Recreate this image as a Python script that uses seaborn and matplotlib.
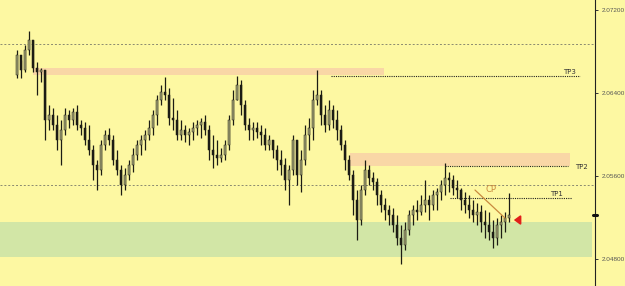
import numpy as np
import pandas as pd
import matplotlib
matplotlib.use("Agg")
import matplotlib.pyplot as plt
import seaborn as sns

# ---- data (prices) ----
first_open = 2.06573
highs = [2.06814, 2.06718, 2.06862, 2.06997, 2.06910, 2.06698, 2.06640, 2.06621, 2.06284, 2.06255,
         2.06187, 2.06139, 2.06255, 2.06236, 2.06255, 2.06284, 2.06139, 2.06120, 2.06091, 2.05898,
         2.05754, 2.05946, 2.06043, 2.06062, 2.05995, 2.05850, 2.05705, 2.05676, 2.05754, 2.05869,
         2.05946, 2.05995, 2.06043, 2.06139, 2.06236, 2.06380, 2.06477, 2.06554, 2.06448, 2.06351,
         2.06236, 2.06139, 2.06091, 2.06062, 2.06120, 2.06139, 2.06158, 2.06187, 2.06091, 2.05995,
         2.05946, 2.05869, 2.05946, 2.06187, 2.06428, 2.06563, 2.06525, 2.06332, 2.06158, 2.06120,
         2.06120, 2.06091, 2.06062, 2.05995, 2.05946, 2.05898, 2.05850, 2.05773, 2.05705, 2.05995,
         2.05946, 2.05850, 2.06091, 2.06158, 2.06428, 2.06621, 2.06428, 2.06284, 2.06332, 2.06284,
         2.06236, 2.06091, 2.05946, 2.05802, 2.05657, 2.05464, 2.05513, 2.05754, 2.05705, 2.05638,
         2.05580, 2.05464, 2.05387, 2.05320, 2.05291, 2.05223, 2.05127, 2.05156, 2.05272, 2.05320,
         2.05368, 2.05416, 2.05561, 2.05416, 2.05464, 2.05484, 2.05561, 2.05725, 2.05638, 2.05609,
         2.05561, 2.05484, 2.05445, 2.05416, 2.05368, 2.05339, 2.05320, 2.05272, 2.05252, 2.05175,
         2.05194, 2.05223, 2.05252, 2.05435]
lows = [2.06544, 2.06544, 2.06602, 2.06766, 2.06602, 2.06380, 2.06506, 2.05946, 2.06043, 2.06043,
        2.05850, 2.05705, 2.05995, 2.06062, 2.06091, 2.06043, 2.05995, 2.05898, 2.05802, 2.05561,
        2.05464, 2.05609, 2.05850, 2.05898, 2.05705, 2.05609, 2.05416, 2.05464, 2.05561, 2.05638,
        2.05754, 2.05802, 2.05850, 2.05946, 2.05995, 2.06091, 2.06284, 2.06332, 2.06091, 2.06043,
        2.05946, 2.05946, 2.05927, 2.05898, 2.05946, 2.05995, 2.05966, 2.05995, 2.05754, 2.05676,
        2.05705, 2.05734, 2.05754, 2.05850, 2.06091, 2.06332, 2.06187, 2.06043, 2.05946, 2.05946,
        2.05966, 2.05898, 2.05850, 2.05850, 2.05773, 2.05657, 2.05609, 2.05464, 2.05320, 2.05609,
        2.05513, 2.05445, 2.05705, 2.05850, 2.05946, 2.06284, 2.06091, 2.06024, 2.06043, 2.06062,
        2.05946, 2.05850, 2.05657, 2.05561, 2.05223, 2.04982, 2.05127, 2.05416, 2.05513, 2.05464,
        2.05320, 2.05252, 2.05175, 2.05127, 2.05060, 2.04934, 2.04751, 2.04886, 2.05031, 2.05127,
        2.05175, 2.05223, 2.05252, 2.05175, 2.05272, 2.05272, 2.05368, 2.05416, 2.05445, 2.05416,
        2.05387, 2.05272, 2.05243, 2.05194, 2.05156, 2.05127, 2.05060, 2.05002, 2.04982, 2.04905,
        2.04934, 2.05002, 2.05060, 2.05156]
closes = [2.06766, 2.06621, 2.06814, 2.06910, 2.06640, 2.06602, 2.06621, 2.06139, 2.06187, 2.06091,
          2.05946, 2.06043, 2.06187, 2.06139, 2.06216, 2.06091, 2.06062, 2.05946, 2.05850, 2.05705,
          2.05657, 2.05898, 2.05995, 2.05946, 2.05754, 2.05657, 2.05513, 2.05609, 2.05705, 2.05802,
          2.05898, 2.05946, 2.05995, 2.06062, 2.06187, 2.06332, 2.06409, 2.06380, 2.06158, 2.06139,
          2.05995, 2.06043, 2.05995, 2.06024, 2.06062, 2.06091, 2.06120, 2.06043, 2.05850, 2.05802,
          2.05773, 2.05802, 2.05898, 2.06139, 2.06332, 2.06477, 2.06284, 2.06091, 2.06043, 2.06062,
          2.06024, 2.05995, 2.05898, 2.05946, 2.05850, 2.05754, 2.05705, 2.05561, 2.05657, 2.05946,
          2.05609, 2.05754, 2.05995, 2.06062, 2.06332, 2.06380, 2.06187, 2.06091, 2.06236, 2.06139,
          2.06043, 2.05898, 2.05754, 2.05609, 2.05368, 2.05175, 2.05464, 2.05657, 2.05580, 2.05542,
          2.05416, 2.05320, 2.05272, 2.05223, 2.05127, 2.05002, 2.04934, 2.05079, 2.05223, 2.05272,
          2.05252, 2.05320, 2.05368, 2.05320, 2.05416, 2.05445, 2.05513, 2.05580, 2.05561, 2.05484,
          2.05464, 2.05368, 2.05320, 2.05272, 2.05223, 2.05252, 2.05156, 2.05127, 2.05060, 2.05002,
          2.05127, 2.05156, 2.05194, 2.05223]

tick_values = [2.04800, 2.05600, 2.06400, 2.07200]
grid_levels = [2.06872, 2.05513]
zone_tp3 = (2.06573, 2.06640)
zone_tp2 = (2.05696, 2.05821)
zone_buy = (2.04819, 2.05156)
tp_levels = {"TP3": 2.06563, "TP2": 2.05696, "TP1": 2.05387}
cp_line = ([114.5, 122.0], [2.05464, 2.05194])
current_price = 2.05223

# ---- dataframe ----
n = len(closes)
df = pd.DataFrame({
    "idx": np.arange(n),
    "open": np.concatenate([[first_open], closes[:-1]]),
    "high": highs, "low": lows, "close": closes,
})
df["bull"] = df["close"] >= df["open"]

sns.set_theme(style="white")
plt.rcParams["font.family"] = ["DejaVu Sans"]

BG = "#fdf8a2"
fig = plt.figure(figsize=(6.25, 2.86), dpi=100, facecolor=BG)
ax = fig.add_axes([0, 0, 595 / 625, 1])
ax.set_facecolor(BG)

xmin, xmax = -4.25, 144.5
ymax = 2.07296
ymin = 2.07296 - 0.0000964 * 286
ax.set_xlim(xmin, xmax)
ax.set_ylim(ymin, ymax)

# zones
ax.fill_between([4.0, 91.75], *zone_tp3, color="#f9d7a6", lw=0, zorder=1)
ax.fill_between([83.25, 138.25], *zone_tp2, color="#f9d7a6", lw=0, zorder=1)
ax.fill_between([xmin, 143.75], *zone_buy, color="#d2e6a6", lw=0, zorder=1)

# grid lines
for g in grid_levels:
    ax.axhline(g, color="#8a8a70", lw=0.7, ls=(0, (2, 2)), zorder=1.5)

# candles
wick_col = "#1c1c14"
ax.vlines(df["idx"], df["low"], df["high"], color=wick_col, lw=0.9, zorder=3)
body_bottom = np.minimum(df["open"], df["close"])
body_h = np.abs(df["close"] - df["open"]).clip(lower=0.00005)
cols = np.where(df["bull"], "#a2a274", "#1c1c14")
ax.bar(df["idx"], body_h, bottom=body_bottom, width=0.5, color=cols,
       edgecolor=wick_col, linewidth=0.35, zorder=4)

# TP dotted lines and labels
tp_span = {"TP3": (78.5, 140.75), "TP2": (107.0, 137.75), "TP1": (108.25, 138.75)}
for name, lvl in tp_levels.items():
    x0, x1 = tp_span[name]
    ax.plot([x0, x1], [lvl, lvl], color="#222222", lw=0.8, ls=(0, (1, 1)), zorder=2)
ax.text(136.5, tp_levels["TP3"] + 0.00012, "TP3", fontsize=5, color="#333333",
        ha="left", va="bottom")
ax.text(139.5, tp_levels["TP2"] - 0.0001, "TP2", fontsize=5, color="#333333",
        ha="left", va="center")
ax.text(133.3, tp_levels["TP1"] + 0.00012, "TP1", fontsize=5, color="#333333",
        ha="left", va="bottom")

# CP line
cp_df = pd.DataFrame({"x": cp_line[0], "y": cp_line[1]})
sns.lineplot(data=cp_df, x="x", y="y", ax=ax, color="#c98a3e", lw=0.9, zorder=5)
ax.text(117.0, 2.05425, "CP", fontsize=6, color="#c98a3e", ha="left", va="bottom")

# red arrow
ax.annotate("", xy=(123.5, 2.05175), xytext=(126.2, 2.05175),
            arrowprops=dict(arrowstyle="-|>,head_width=0.22,head_length=0.3",
                            color="#e0201a", lw=1.4), zorder=6)

# right axis
ax.yaxis.tick_right()
ax.set_yticks(tick_values)
ax.set_yticklabels([f"{v:.5f}" for v in tick_values], fontsize=4.6,
                   family=["Liberation Sans Narrow", "Liberation Sans", "DejaVu Sans"])
ax.tick_params(axis="y", direction="out", length=2.5, width=0.7, colors="#333333",
               labelcolor="#555555", pad=2)
ax.set_xticks([])
ax.set_xlabel("")
ax.set_ylabel("")
for s in ["left", "top", "bottom"]:
    ax.spines[s].set_visible(False)
ax.spines["right"].set_visible(True)
ax.spines["right"].set_color("#222222")
ax.spines["right"].set_linewidth(0.8)

# current price marker on axis
ax.plot([xmax - 0.4, xmax + 0.4], [current_price, current_price], color="#111111",
        lw=2.2, clip_on=False, zorder=7)

if ax.get_legend() is not None:
    ax.get_legend().remove()

fig.savefig("out.png", dpi=100, facecolor=BG)
